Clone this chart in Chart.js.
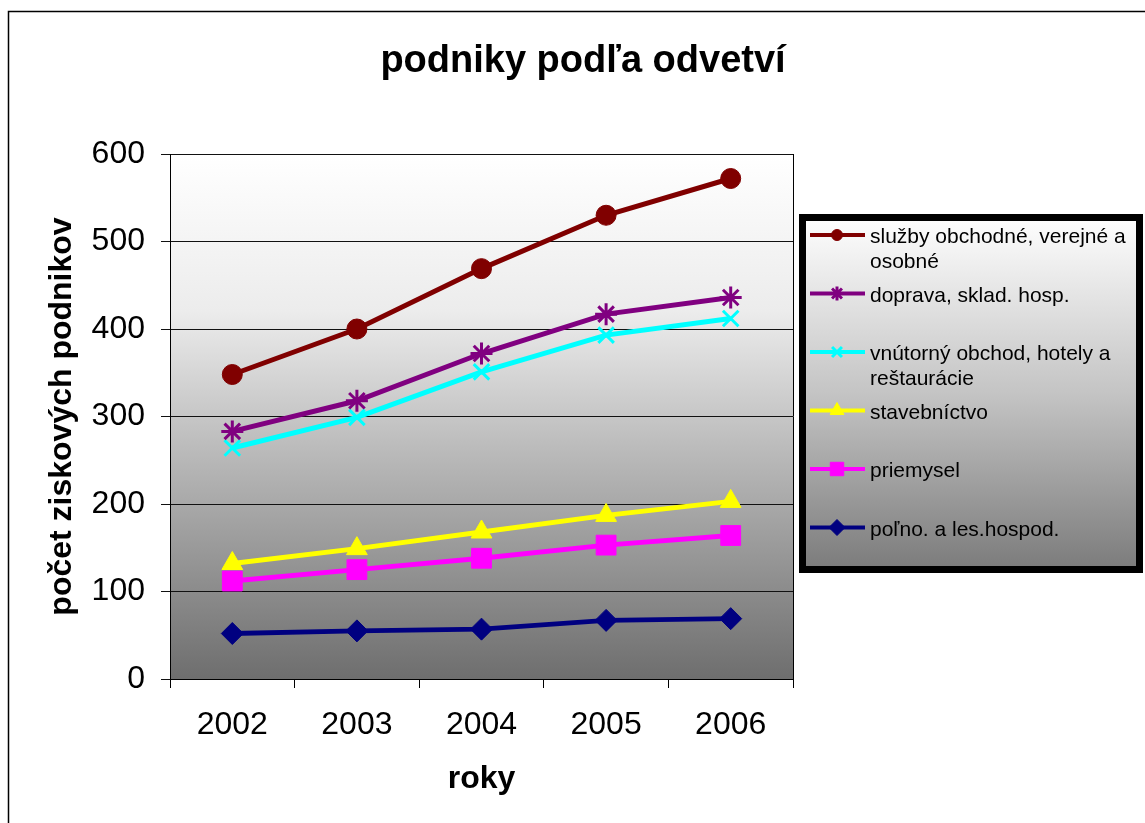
<!DOCTYPE html>
<html>
<head>
<meta charset="utf-8">
<script src="https://cdn.jsdelivr.net/npm/chart.js@4.4.1/dist/chart.umd.min.js"></script>
<style>
    body { margin: 0; background: #fff; }
    canvas { display: block; }
</style>
</head>
<body>
<canvas id="myChart" width="1145" height="823"></canvas>
<script>
const years = ['2002', '2003', '2004', '2005', '2006'];
const sluzby = [348, 400, 469, 530, 572];
const doprava = [283, 318, 372, 417, 436];
const obchod = [264, 299, 351, 393, 412];
const stavebnictvo = [132, 149, 168, 187, 203];
const priemysel = [112, 125, 138, 153, 164];
const polno = [52, 55, 57, 67, 69];
const seriesNames = [
    'služby obchodné, verejné a osobné',
    'doprava, sklad. hosp.',
    'vnútorný obchod, hotely a reštaurácie',
    'stavebníctvo',
    'priemysel',
    'poľno. a les.hospod.'
];
const yMin = 0, yMax = 600, yStep = 100;

const FONT = "'Liberation Sans', Arial, sans-serif";
Chart.defaults.font.family = FONT;
Chart.defaults.color = '#000';

// style per series: color, point style, radius in plot, radius in legend
const styles = [
    { color: '#800000', point: 'circle', r: 10, lr: 5.5 },
    { color: '#800080', point: 'star', r: 11, lr: 7 },
    { color: '#00FFFF', point: 'crossRot', r: 11, lr: 7 },
    { color: '#FFFF00', point: 'triangle', r: 12, lr: 8 },
    { color: '#FF00FF', point: 'rect', r: 14, lr: 9.5 },
    { color: '#000080', point: 'rectRot', r: 11, lr: 8 }
];
const seriesData = [sluzby, doprava, obchod, stavebnictvo, priemysel, polno];

const datasets = seriesData.map((d, i) => ({
    label: seriesNames[i],
    data: d,
    borderColor: styles[i].color,
    backgroundColor: styles[i].color,
    pointBackgroundColor: styles[i].color,
    pointBorderColor: styles[i].color,
    pointStyle: styles[i].point,
    pointRadius: styles[i].r,
    pointBorderWidth: (styles[i].point === 'star' || styles[i].point === 'crossRot') ? 3 : 1,
    borderWidth: 5,
    tension: 0,
    fill: false
}));

function wrapText(ctx, text, maxWidth) {
    const words = text.split(' ');
    const lines = [];
    let line = '';
    words.forEach(w => {
        const test = line ? line + ' ' + w : w;
        if (ctx.measureText(test).width > maxWidth && line) {
            lines.push(line);
            line = w;
        } else {
            line = test;
        }
    });
    if (line) lines.push(line);
    return lines;
}

const decor = {
    id: 'decor',
    beforeDraw(chart) {
        const ctx = chart.ctx;
        const a = chart.chartArea;
        ctx.save();
        ctx.fillStyle = '#fff';
        ctx.fillRect(0, 0, chart.width, chart.height);
        // outer frame
        ctx.strokeStyle = '#000';
        ctx.lineWidth = 1.5;
        ctx.strokeRect(8.5, 11.5, 1300, 1000);
        // plot area gradient
        const g = ctx.createLinearGradient(0, a.top, 0, a.bottom);
        g.addColorStop(0, '#ffffff');
        g.addColorStop(0.3, '#ececec');
        g.addColorStop(0.55, '#bdbdbd');
        g.addColorStop(1, '#6e6e6e');
        ctx.fillStyle = g;
        ctx.fillRect(a.left, a.top, a.right - a.left, a.bottom - a.top);
        // title
        ctx.fillStyle = '#000';
        ctx.font = 'bold 38px ' + FONT;
        ctx.textAlign = 'center';
        ctx.textBaseline = 'alphabetic';
        ctx.fillText('podniky podľa odvetví', 583, 72);
        ctx.restore();
    },
    afterDraw(chart) {
        const ctx = chart.ctx;
        const a = chart.chartArea;
        ctx.save();
        // right border of plot area
        ctx.strokeStyle = '#000';
        ctx.lineWidth = 1;
        ctx.beginPath();
        ctx.moveTo(a.right + 0.5, a.top);
        ctx.lineTo(a.right + 0.5, a.bottom);
        ctx.stroke();

        // legend box
        const lx = 799, ly = 214, lw = 344, lh = 359;
        const g = ctx.createLinearGradient(0, ly, 0, ly + lh);
        g.addColorStop(0, '#ffffff');
        g.addColorStop(0.5, '#c4c4c4');
        g.addColorStop(1, '#7a7a7a');
        ctx.fillStyle = g;
        ctx.fillRect(lx, ly, lw, lh);
        ctx.lineWidth = 7;
        ctx.strokeStyle = '#000';
        ctx.strokeRect(lx + 3.5, ly + 3.5, lw - 7, lh - 7);

        ctx.font = '21px ' + FONT;
        ctx.textAlign = 'left';
        ctx.textBaseline = 'alphabetic';
        chart.data.datasets.forEach((ds, i) => {
            const y = 235 + i * 58.5;
            ctx.strokeStyle = ds.borderColor;
            ctx.lineWidth = 4;
            ctx.beginPath();
            ctx.moveTo(810, y);
            ctx.lineTo(865, y);
            ctx.stroke();
            ctx.fillStyle = ds.borderColor;
            ctx.strokeStyle = ds.borderColor;
            ctx.lineWidth = ds.pointBorderWidth;
            Chart.helpers.drawPoint(ctx, {
                pointStyle: ds.pointStyle,
                rotation: 0,
                radius: styles[i].lr,
                borderWidth: ds.pointBorderWidth
            }, 837, y);
            ctx.fillStyle = '#000';
            const lines = wrapText(ctx, ds.label, 266);
            lines.forEach((t, k) => ctx.fillText(t, 870, y + 8 + k * 25));
        });
        ctx.restore();
    }
};

new Chart(document.getElementById('myChart'), {
    type: 'line',
    data: { labels: years, datasets: datasets },
    options: {
        responsive: false,
        animation: false,
        layout: { padding: { top: 154, right: 352, bottom: 0, left: 0 } },
        plugins: {
            legend: { display: false },
            title: { display: false },
            tooltip: { enabled: false }
        },
        scales: {
            x: {
                offset: true,
                grid: {
                    offset: true,
                    drawOnChartArea: false,
                    color: '#000',
                    tickLength: 9
                },
                border: { color: '#000', width: 1 },
                ticks: { font: { size: 32 }, color: '#000', padding: 18, maxRotation: 0 },
                title: {
                    display: true,
                    text: 'roky',
                    font: { size: 32, weight: 'bold' },
                    color: '#000',
                    padding: { top: 0, bottom: 25 }
                },
                afterFit(scale) { scale.height = 144; }
            },
            y: {
                min: yMin,
                max: yMax,
                ticks: { stepSize: yStep, font: { size: 32 }, color: '#000', padding: 16 },
                grid: { color: '#111', tickLength: 9, lineWidth: 1 },
                border: { color: '#000', width: 1 },
                title: {
                    display: true,
                    text: 'počet ziskových podnikov',
                    font: { size: 32, weight: 'bold' },
                    color: '#000',
                    padding: { top: 43, bottom: 0 }
                },
                afterFit(scale) { scale.width = 170; }
            }
        }
    },
    plugins: [decor]
});
</script>
</body>
</html>
